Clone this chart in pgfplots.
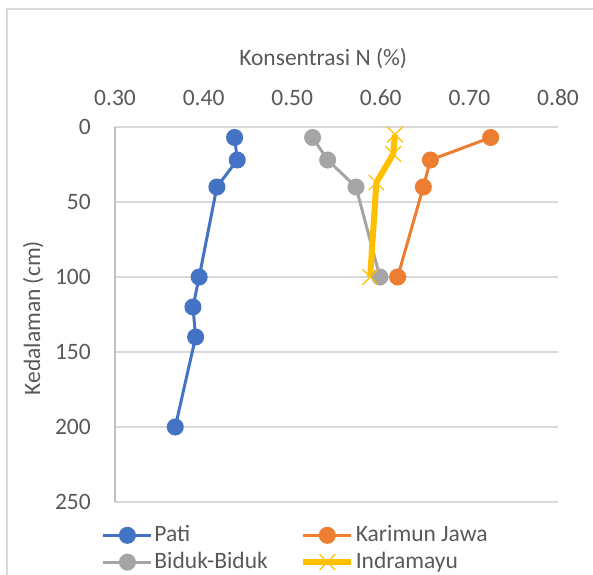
\documentclass[border=0pt]{standalone}
\usepackage{fontspec}
\setmainfont{Carlito}
\usepackage{pgfplots}
\pgfplotsset{compat=1.18}
\definecolor{cblue}{HTML}{4472C4}
\definecolor{corange}{HTML}{ED7D31}
\definecolor{cgray}{HTML}{A5A5A5}
\definecolor{cyellow}{HTML}{FFC000}
\definecolor{textgray}{HTML}{595959}
\definecolor{gridgray}{HTML}{D9D9D9}
\definecolor{axisgray}{HTML}{BFBFBF}
\begin{document}
\fontsize{23.5bp}{28bp}\selectfont
\begin{tikzpicture}
\useasboundingbox (0,0) rectangle (593bp,575bp);
\draw[gridgray, line width=1.2bp] (7bp,0) -- (7bp,566bp) -- (593bp,566bp);
\begin{axis}[
  at={(115bp,73bp)}, anchor=south west,
  scale only axis, width=443bp, height=375bp,
  xmin=0.3, xmax=0.8, ymin=0, ymax=250, y dir=reverse,
  xtick={0.3,0.4,0.5,0.6,0.7,0.8},
  ytick={0,50,100,150,200,250},
  axis x line*=top, axis y line*=left,
  x axis line style={draw=none},
  y axis line style={draw=axisgray, line width=1.2bp},
  major tick length=0pt,
  ymajorgrids, grid style={gridgray, line width=1.2bp},
  /pgf/number format/assume math mode=true,
  xticklabel style={/pgf/number format/.cd, fixed, fixed zerofill, precision=2, /tikz/.cd},
  xticklabel style={anchor=base, inner sep=0pt, yshift=22bp, font=\fontsize{23.5bp}{28bp}\selectfont, text=textgray},
  yticklabel style={anchor=east, inner sep=0pt, xshift=-24bp, font=\fontsize{23.5bp}{28bp}\selectfont, text=textgray},
  xlabel={Konsentrasi N (\%)},
  xlabel style={at={(axis description cs:0.47,1)}, anchor=base, yshift=62bp, inner sep=0pt, font=\fontsize{23.5bp}{28bp}\selectfont, text=textgray},
  ylabel={Kedalaman (cm)},
  ylabel style={at={(axis description cs:-0.185,0.49)}, anchor=center, inner sep=0pt, font=\fontsize{23.5bp}{28bp}\selectfont, text=textgray},
  legend columns=2,
  legend style={at={(axis description cs:-0.03,-0.058)}, anchor=north west, draw=none, fill=none,
    font=\fontsize{23.5bp}{28bp}\selectfont, text=textgray, inner sep=0pt,
    nodes={inner sep=1.5bp}, row sep=4bp,
    /tikz/every even column/.append style={column sep=31bp}},
  legend cell align=left,
  legend image code/.code={\draw[mark repeat=2,mark phase=2] plot coordinates {(0bp,0bp) (24bp,0bp) (48bp,0bp)};},
]
\addplot[cblue, line width=3bp, mark=*, mark size=7bp, mark options={solid}] coordinates {
  (0.435,7) (0.438,22) (0.415,40) (0.395,100) (0.388,120) (0.391,140) (0.368,200)};
\addlegendentry{Pati}
\addplot[corange, line width=3bp, mark=*, mark size=7bp] coordinates {
  (0.724,7) (0.656,22) (0.648,40) (0.619,100)};
\addlegendentry{Karimun Jawa}
\addplot[cgray, line width=3bp, mark=*, mark size=7bp] coordinates {
  (0.523,7) (0.540,22) (0.572,40) (0.599,100)};
\addlegendentry{Biduk-Biduk}
\addplot[cyellow, line width=6bp, mark=x, mark size=11bp, mark options={line width=1.2bp}] coordinates {
  (0.616,5) (0.614,18) (0.595,37) (0.588,100)};
\addlegendentry{Indramayu}
\end{axis}
\end{tikzpicture}
\end{document}
